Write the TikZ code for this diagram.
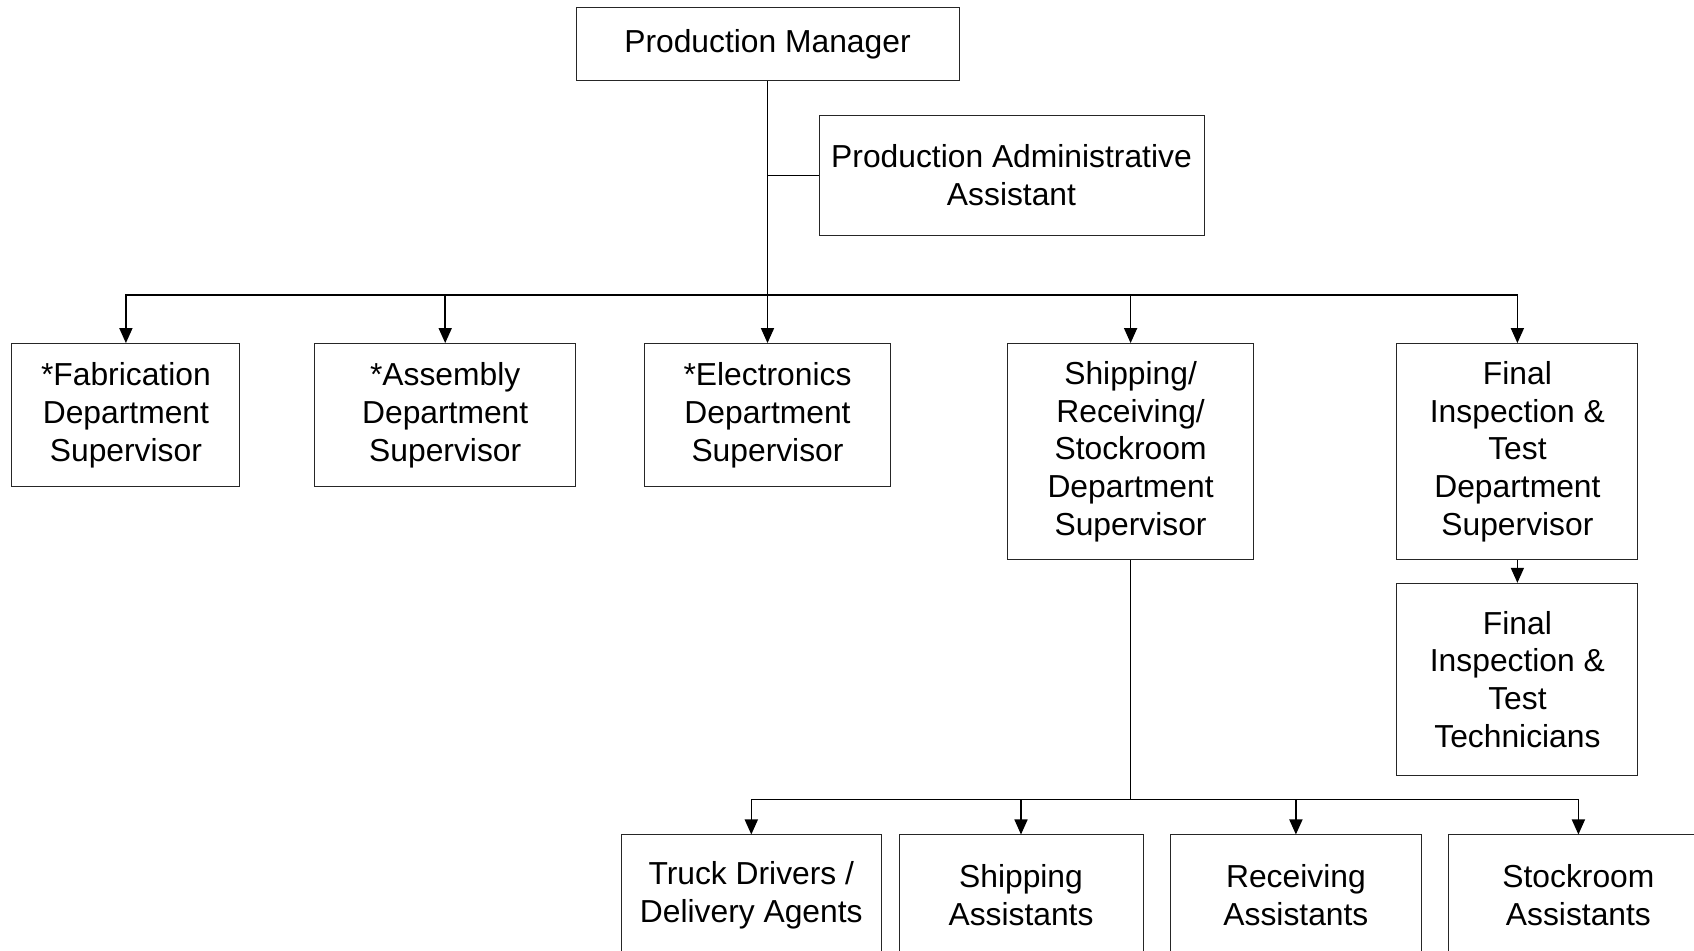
\documentclass[tikz,border=0pt]{standalone}
\usepackage{fontspec}
\setmainfont{Liberation Sans}
\usetikzlibrary{arrows.meta}
\begin{document}
\begin{tikzpicture}[x=0.5pt,y=-0.5pt,
  box/.style={draw=black!85, line width=0.5pt, inner sep=0pt, align=center,
    font=\fontsize{15.9pt}{18.9pt}\selectfont},
  conn/.style={line width=0.8pt, black},
  arr/.style={conn, -{Triangle[width=6.5pt,length=7.5pt]}}]
\useasboundingbox (0,0) rectangle (1694,951);
% nodes
\node[box, minimum width=191.5pt, minimum height=36.2pt] (pm) at (767.5,44) {Production Manager};
\node[box, minimum width=192.5pt, minimum height=60pt] (paa) at (1011.5,175.5) {Production Administrative\\Assistant};
\node[box, minimum width=114pt, minimum height=71.7pt] (fab) at (125.9,415.3) {*Fabrication\\Department\\Supervisor};
\node[box, minimum width=130.75pt, minimum height=71.7pt] (asm) at (445.2,415.3) {*Assembly\\Department\\Supervisor};
\node[box, minimum width=122.6pt, minimum height=71.7pt] (elec) at (767.5,415.3) {*Electronics\\Department\\Supervisor};
\node[box, minimum width=122.65pt, minimum height=108pt] (ship) at (1130.6,451.6) {Shipping/\\Receiving/\\Stockroom\\Department\\Supervisor};
\node[box, minimum width=120.5pt, minimum height=108pt] (fin) at (1517.4,451.6) {Final\\Inspection \&\\Test\\Department\\Supervisor};
\node[box, minimum width=120.5pt, minimum height=96.15pt] (tech) at (1517.4,679.5) {Final\\Inspection \&\\Test\\Technicians};
\node[box, minimum width=130.3pt, minimum height=60pt] (truck) at (751.3,895) {Truck Drivers /\\Delivery Agents};
\node[box, minimum width=122pt, minimum height=60pt] (shipa) at (1021,895) {Shipping\\Assistants};
\node[box, minimum width=125.9pt, minimum height=60pt] (recv) at (1295.9,895) {Receiving\\Assistants};
\node[box, minimum width=129.6pt, minimum height=60pt] (stock) at (1578.4,895) {Stockroom\\Assistants};
% connectors
\coordinate (bus) at (767.5,295);
\coordinate (sbus) at (1130.6,799.5);
\draw[conn] (pm.south) -- (bus);
\draw[conn, line width=0.5pt] (paa.west) -- (paa.west -| pm.south);
\draw[arr] (bus) -| (fab.north);
\draw[arr] (bus) -| (asm.north);
\draw[arr] (bus) -- (elec.north);
\draw[arr] (bus) -| (ship.north);
\draw[arr] (bus) -| (fin.north);
\draw[arr] (fin.south) -- (tech.north);
\draw[conn] (ship.south) -- (sbus);
\draw[arr] (sbus) -| (truck.north);
\draw[arr] (sbus) -| (shipa.north);
\draw[arr] (sbus) -| (recv.north);
\draw[arr] (sbus) -| (stock.north);
\end{tikzpicture}
\end{document}
